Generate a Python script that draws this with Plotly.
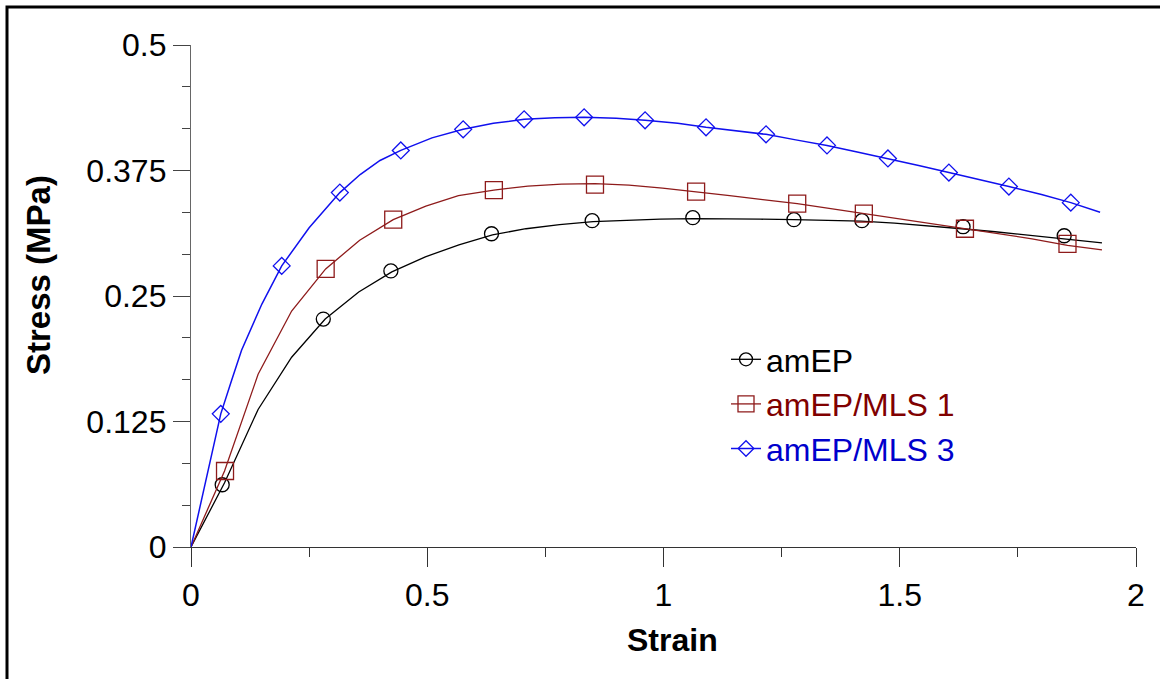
import plotly.graph_objects as go

# ---- data ----
strain_amep = [0, 0.071, 0.142, 0.213, 0.284, 0.355, 0.425, 0.496, 0.567, 0.638, 0.709, 0.78,
               0.851, 0.922, 0.993, 1.064, 1.134, 1.205, 1.276, 1.347, 1.418, 1.489, 1.56,
               1.631, 1.702, 1.773, 1.843, 1.928]
stress_amep = [0, 0.064, 0.137, 0.189, 0.227, 0.254, 0.274, 0.289, 0.301, 0.311, 0.317, 0.321,
               0.324, 0.3255, 0.3265, 0.327, 0.327, 0.3265, 0.326, 0.3255, 0.3245, 0.3225, 0.320,
               0.317, 0.314, 0.3105, 0.307, 0.303]
mk_strain_amep = [0.066, 0.280, 0.423, 0.636, 0.849, 1.062, 1.276, 1.420, 1.634, 1.848]
mk_stress_amep = [0.062, 0.227, 0.275, 0.312, 0.325, 0.328, 0.326, 0.325, 0.319, 0.310]

strain_mls1 = [0, 0.071, 0.142, 0.213, 0.285, 0.357, 0.428, 0.497, 0.566, 0.641, 0.713, 0.784,
               0.855, 0.927, 0.998, 1.069, 1.14, 1.21, 1.283, 1.354, 1.424, 1.495, 1.567,
               1.638, 1.71, 1.78, 1.855, 1.928]
stress_mls1 = [0, 0.0757, 0.172, 0.235, 0.277, 0.3055, 0.326, 0.3395, 0.350, 0.3555, 0.3595, 0.3615,
               0.362, 0.3605, 0.3575, 0.354, 0.350, 0.346, 0.342, 0.337, 0.332, 0.327, 0.3215,
               0.3165, 0.312, 0.307, 0.3005, 0.296]
mk_strain_mls1 = [0.072, 0.285, 0.428, 0.641, 0.855, 1.069, 1.283, 1.424, 1.638, 1.855]
mk_stress_mls1 = [0.0757, 0.277, 0.326, 0.3555, 0.361, 0.354, 0.342, 0.332, 0.317, 0.302]

strain_mls3 = [0, 0.032, 0.063, 0.086, 0.107, 0.15, 0.192, 0.25, 0.315, 0.358, 0.4, 0.444, 0.51,
               0.576, 0.64, 0.705, 0.77, 0.832, 0.9, 0.961, 1.03, 1.09, 1.15, 1.217, 1.28,
               1.346, 1.41, 1.475, 1.54, 1.604, 1.67, 1.731, 1.8, 1.862, 1.924]
stress_mls3 = [0, 0.068, 0.1326, 0.166, 0.196, 0.242, 0.280, 0.318, 0.353, 0.371, 0.385, 0.395, 0.4075,
               0.416, 0.422, 0.426, 0.4275, 0.428, 0.427, 0.425, 0.422, 0.418, 0.415, 0.411, 0.4055,
               0.400, 0.3935, 0.387, 0.380, 0.373, 0.366, 0.359, 0.351, 0.343, 0.3335]
mk_strain_mls3 = [0.063, 0.192, 0.315, 0.444, 0.576, 0.705, 0.832, 0.961, 1.09, 1.217, 1.346,
                  1.475, 1.604, 1.731, 1.862]
mk_stress_mls3 = [0.1326, 0.280, 0.353, 0.395, 0.416, 0.426, 0.428, 0.425, 0.418, 0.411, 0.400,
                  0.387, 0.373, 0.359, 0.343]

series_names = ["amEP", "amEP/MLS 1", "amEP/MLS 3"]
x_ticks = [0, 0.5, 1, 1.5, 2]
x_tick_text = ["0", "0.5", "1", "1.5", "2"]
y_ticks = [0, 0.125, 0.25, 0.375, 0.5]
y_tick_text = ["0", "0.125", "0.25", "0.375", "0.5"]

FONT = "Liberation Sans, Arial, sans-serif"
styles = [
    dict(color="#000000", text="#000000", symbol="circle-open", size=14, lw=1.3),
    dict(color="#8e1b1b", text="#800000", symbol="square-open", size=17, lw=1.3),
    dict(color="#1010ee", text="#0000cc", symbol="diamond-open", size=13, lw=1.5),
]
lines = [(strain_amep, stress_amep), (strain_mls1, stress_mls1), (strain_mls3, stress_mls3)]
marks = [(mk_strain_amep, mk_stress_amep), (mk_strain_mls1, mk_stress_mls1),
         (mk_strain_mls3, mk_stress_mls3)]

fig = go.Figure()
for name, st, (lx, ly), (mx, my) in zip(series_names, styles, lines, marks):
    fig.add_trace(go.Scatter(x=lx, y=ly, mode="lines", showlegend=False,
                             line=dict(color=st["color"], width=st["lw"])))
    fig.add_trace(go.Scatter(x=mx, y=my, mode="markers", showlegend=False,
                             marker=dict(symbol=st["symbol"], size=st["size"],
                                         color=st["color"], line=dict(color=st["color"], width=1.3))))
    fig.add_trace(go.Scatter(x=[None], y=[None], mode="lines+markers",
                             name=f"<span style='color:{st['text']}'>{name}</span>",
                             line=dict(color=st["color"], width=st["lw"]),
                             marker=dict(symbol=st["symbol"], size=st["size"] - 1,
                                         color=st["color"], line=dict(color=st["color"], width=1.3))))

L, R, T, B = 191, 24, 45, 132
W, H = 1160, 679
pw, ph = W - L - R, H - T - B

def px(x):
    return (x - L) / pw

def py(y):
    return (H - B - y) / ph

fig.update_layout(
    width=W, height=H,
    margin=dict(l=L, r=R, t=T, b=B),
    paper_bgcolor="white", plot_bgcolor="white",
    font=dict(family=FONT, color="black"),
    showlegend=True,
    legend=dict(x=px(726), y=py(332), xanchor="left", yanchor="top",
                font=dict(family=FONT, size=32), bgcolor="rgba(0,0,0,0)",
                itemwidth=30),
    xaxis=dict(range=[0, 2], tickvals=x_ticks, ticktext=x_tick_text,
               showgrid=False, zeroline=False, showline=True, linecolor="#333333", linewidth=1.3,
               ticks="outside", ticklen=19, tickwidth=1.3, tickcolor="#333333",
               tickfont=dict(family=FONT, size=32, color="black"),
               minor=dict(ticks="outside", dtick=0.25, tick0=0, ticklen=9, tickwidth=1.3,
                          tickcolor="#333333", showgrid=False)),
    yaxis=dict(range=[0, 0.5], tickvals=y_ticks, ticktext=y_tick_text,
               showgrid=False, zeroline=False, showline=True, linecolor="#666666", linewidth=1.3,
               ticks="outside", ticklen=17, tickwidth=1.3, tickcolor="#444444",
               tickfont=dict(family=FONT, size=32, color="black"),
               minor=dict(ticks="outside", dtick=0.125 / 3, tick0=0, ticklen=8, tickwidth=1.3,
                          tickcolor="#444444", showgrid=False)),
    annotations=[
        dict(text="<b>Strain</b>", xref="paper", yref="paper", x=px(672), y=py(640),
             xanchor="center", yanchor="middle", showarrow=False,
             font=dict(family=FONT, size=32, color="black")),
        dict(text="<b>Stress (MPa)</b>", xref="paper", yref="paper", x=px(38), y=py(275),
             xanchor="center", yanchor="middle", showarrow=False, textangle=-90,
             font=dict(family=FONT, size=33, color="black")),
    ],
    shapes=[
        dict(type="rect", xref="paper", yref="paper", x0=px(7), x1=px(1175), y0=py(700), y1=py(7),
             line=dict(color="black", width=3), fillcolor="rgba(0,0,0,0)", layer="above"),
    ],
)

fig.write_html("out.html")
